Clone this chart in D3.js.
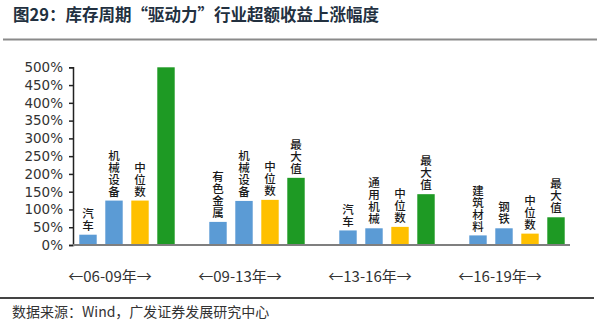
<!DOCTYPE html>
<html><head><meta charset="utf-8">
<script src="https://cdn.jsdelivr.net/npm/d3@7"></script>
<style>
html,body{margin:0;padding:0;background:#fff;}
svg{display:block;}
</style></head>
<body>
<script>
const title = "图29：库存周期“驱动力”行业超额收益上涨幅度";
const source = "数据来源：Wind，广发证券发展研究中心";
const periods = ["06-09年", "09-13年", "13-16年", "16-19年"];
const seriesKeys = ["industryA", "industryB", "median", "max"];
const industryALabels = ["汽车", "有色金属", "汽车", "建筑材料"];
const industryAValues = [29, 65, 41, 27];
const industryBLabels = ["机械设备", "机械设备", "通用机械", "钢铁"];
const industryBValues = [125, 124, 47, 47];
const medianLabels = ["中位数", "中位数", "中位数", "中位数"];
const medianValues = [125, 127, 51, 32];
const maxLabels = ["", "最大值", "最大值", "最大值"];
const maxValues = [500, 189, 143, 78];
const yTicks = [0, 50, 100, 150, 200, 250, 300, 350, 400, 450, 500];

const colors = {industryA: "#5b9bd5", industryB: "#5b9bd5", median: "#ffc000", max: "#1e9a24"};

const W = 600, H = 324;
const svg = d3.select("body").append("svg").attr("width", W).attr("height", H);

// title
svg.append("text").attr("x", 13).attr("y", 21)
  .attr("font-family", "'Noto Sans CJK SC', sans-serif").attr("font-weight", "bold")
  .attr("font-size", 16.5).attr("fill", "#22303f").text(title);
svg.append("line").attr("x1", 3).attr("x2", 597).attr("y1", 39.5).attr("y2", 39.5)
  .attr("stroke", "#8a8a8a").attr("stroke-width", 2);

// scales
const y = d3.scaleLinear().domain([0, 500]).range([245, 67.3]);
const x0 = d3.scaleBand().domain(periods).range([75, 595]).paddingInner(0).paddingOuter(0);
const x1 = d3.scaleBand().domain(seriesKeys).range([0, x0.bandwidth() * 4 / 5])
  .paddingInner(0.33).paddingOuter(0.165);

// data table
const rows = periods.map((p, i) => ({
  period: p,
  bars: [
    {key: "industryA", label: industryALabels[i], value: industryAValues[i]},
    {key: "industryB", label: industryBLabels[i], value: industryBValues[i]},
    {key: "median", label: medianLabels[i], value: medianValues[i]},
    {key: "max", label: maxLabels[i], value: maxValues[i]}
  ]
}));

// y axis
const yAxis = d3.axisLeft(y).tickValues(yTicks).tickFormat(d => d + "%").tickSize(4).tickPadding(6);
const gy = svg.append("g").attr("transform", "translate(73,0)").call(yAxis);
gy.select(".domain").attr("stroke", "#222").attr("stroke-width", 1.5);
gy.selectAll(".tick line").attr("stroke", "#222").attr("stroke-width", 1.5);
gy.selectAll(".tick text").attr("font-family", "'DejaVu Sans', sans-serif")
  .attr("font-size", 13.5).attr("fill", "#333");

// bars
const groups = svg.append("g").selectAll("g").data(rows).join("g")
  .attr("transform", d => `translate(${x0(d.period)},0)`);

groups.selectAll("rect").data(d => d.bars).join("rect")
  .attr("x", d => x1(d.key)).attr("width", x1.bandwidth())
  .attr("y", d => y(d.value)).attr("height", d => y(0) - y(d.value))
  .attr("fill", d => colors[d.key]);

// vertical labels (single text, vertical writing mode)
groups.selectAll("text.lbl").data(d => d.bars.filter(b => b.label)).join("text")
  .attr("class", "lbl")
  .attr("x", d => x1(d.key) + x1.bandwidth() / 2)
  .attr("y", d => y(d.value) - 3)
  .attr("text-anchor", "end")
  .style("writing-mode", "vertical-rl")
  .style("text-orientation", "upright")
  .style("letter-spacing", "0.5px")
  .attr("font-family", "'Noto Sans CJK SC', sans-serif").attr("font-weight", 500)
  .attr("font-size", 11.5).attr("fill", "#1a1a1a")
  .text(d => d.label);

// x baseline
svg.append("line").attr("x1", 73).attr("x2", 570).attr("y1", y(0)).attr("y2", y(0))
  .attr("stroke", "#7f7f7f").attr("stroke-width", 2);

// period labels
svg.append("g").selectAll("text").data(periods).join("text")
  .attr("x", p => x0(p) + 35).attr("y", 282)
  .attr("text-anchor", "middle")
  .attr("font-family", "'Noto Sans CJK SC', sans-serif")
  .attr("font-size", 15).attr("fill", "#333")
  .text(p => "←" + p + "→");

// bottom line and source
svg.append("line").attr("x1", 0).attr("x2", 594).attr("y1", 298).attr("y2", 298)
  .attr("stroke", "#444").attr("stroke-width", 2);
svg.append("text").attr("x", 12).attr("y", 317)
  .attr("font-family", "'Noto Sans CJK SC', sans-serif")
  .attr("font-size", 14).attr("fill", "#333").text(source);
</script>
</body></html>
